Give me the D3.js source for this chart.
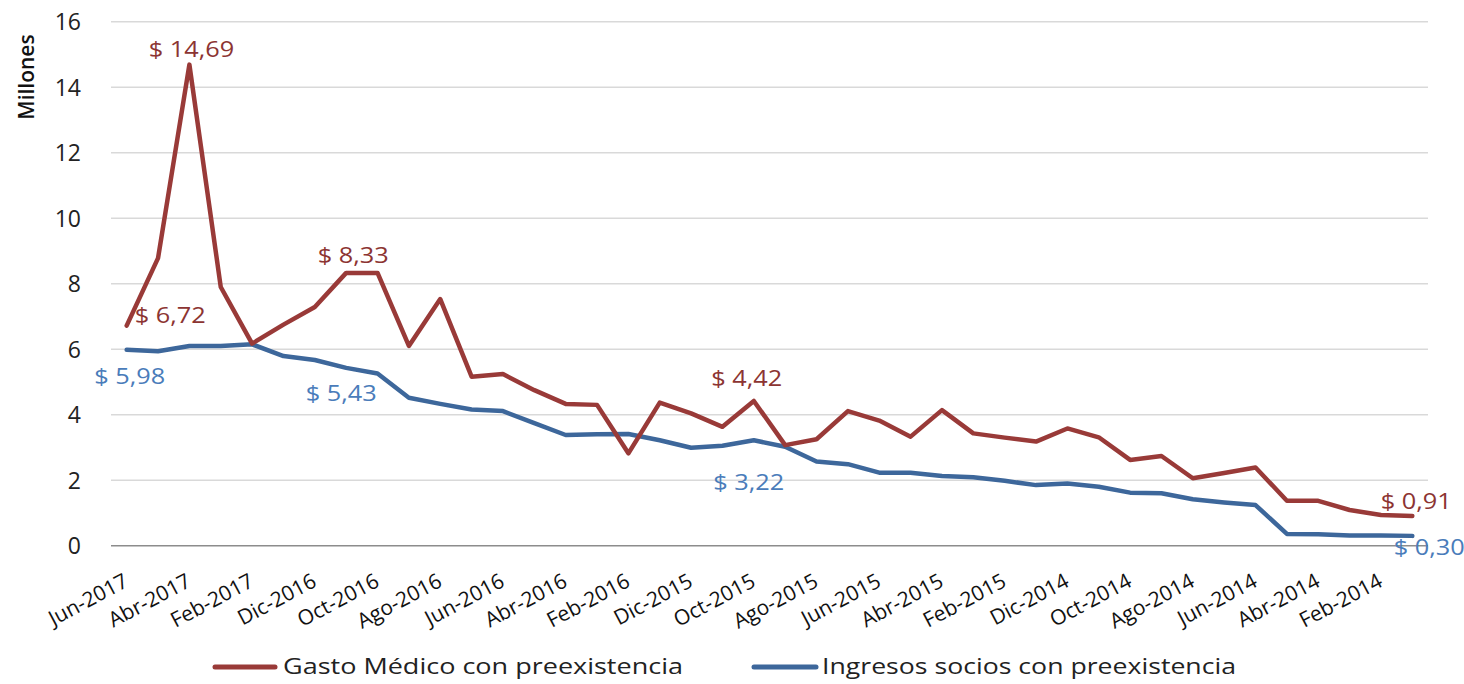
<!DOCTYPE html>
<html>
<head>
<meta charset="utf-8">
<script src="https://cdn.jsdelivr.net/npm/d3@7"></script>
<style>
  html, body { margin: 0; padding: 0; background: #fff; }
  svg { display: block; font-family: "Open Sans", "Liberation Sans", sans-serif; }
</style>
</head>
<body>
<svg id="chart" width="1464" height="684"></svg>
<script>
// ---- Data ----
const months = [
  "Jun-2017","May-2017","Abr-2017","Mar-2017","Feb-2017","Ene-2017",
  "Dic-2016","Nov-2016","Oct-2016","Sep-2016","Ago-2016","Jul-2016",
  "Jun-2016","May-2016","Abr-2016","Mar-2016","Feb-2016","Ene-2016",
  "Dic-2015","Nov-2015","Oct-2015","Sep-2015","Ago-2015","Jul-2015",
  "Jun-2015","May-2015","Abr-2015","Mar-2015","Feb-2015","Ene-2015",
  "Dic-2014","Nov-2014","Oct-2014","Sep-2014","Ago-2014","Jul-2014",
  "Jun-2014","May-2014","Abr-2014","Mar-2014","Feb-2014","Ene-2014"
];
const gastoMedico = [
  6.72, 8.78, 14.69, 7.90, 6.17, 6.75,
  7.29, 8.33, 8.33, 6.10, 7.53, 5.16,
  5.24, 4.75, 4.33, 4.30, 2.82, 4.37,
  4.04, 3.63, 4.42, 3.07, 3.25, 4.11,
  3.82, 3.33, 4.14, 3.43, 3.30, 3.18,
  3.58, 3.31, 2.62, 2.74, 2.06, 2.22,
  2.39, 1.37, 1.37, 1.09, 0.94, 0.91
];
const ingresosSocios = [
  5.98, 5.94, 6.10, 6.10, 6.15, 5.79,
  5.67, 5.43, 5.26, 4.52, 4.33, 4.16,
  4.11, 3.74, 3.38, 3.40, 3.41, 3.22,
  2.99, 3.05, 3.22, 3.02, 2.57, 2.49,
  2.23, 2.23, 2.13, 2.09, 1.98, 1.85,
  1.90, 1.80, 1.62, 1.60, 1.42, 1.32,
  1.24, 0.36, 0.35, 0.31, 0.31, 0.30
];
const yTicks = [0, 2, 4, 6, 8, 10, 12, 14, 16];
const xTickLabels = months.filter((d, i) => i % 2 === 0);
const seriesNames = ["Gasto Médico con preexistencia", "Ingresos socios con preexistencia"];
const yAxisTitle = "Millones";
// labelled points: [series index, point index]
const labelledPoints = [[0, 0], [0, 2], [0, 7], [0, 20], [0, 41], [1, 0], [1, 7], [1, 20], [1, 41]];

// ---- Layout / style ----
const colors = { line: ["#993a38", "#3d679b"], label: ["#8c3432", "#4a7cba"] };
const plot = { left: 111, right: 1428, top: 21.7, bottom: 545.7 };
const labelStretch = 1.15;
// label offsets (dx, dy of baseline, anchor) per labelled point
const labelOffsets = {
  "0-0": [8, -3, "start"], "0-2": [2, -8, "middle"], "0-7": [7, -10, "middle"],
  "0-20": [-7, -15, "middle"], "0-41": [4, -7, "middle"],
  "1-0": [3, 34, "middle"], "1-7": [-5, 33, "middle"], "1-20": [-5, 50, "middle"],
  "1-41": [17, 19, "middle"]
};

const svg = d3.select("#chart");

const x = d3.scaleBand().domain(months).range([plot.left, plot.right]);
const cx = m => x(m) + x.bandwidth() / 2;
const y = d3.scaleLinear().domain([0, 16]).range([plot.bottom, plot.top]);

// gridlines
svg.append("g").selectAll("line").data(yTicks.filter(t => t > 0)).join("line")
  .attr("x1", plot.left).attr("x2", plot.right)
  .attr("y1", d => y(d)).attr("y2", d => y(d))
  .attr("stroke", "#d9d9d9").attr("stroke-width", 1.5);

// y axis labels
const yAxis = d3.axisLeft(y).tickValues(yTicks).tickSize(0).tickPadding(0).tickFormat(d3.format("d"));
const gy = svg.append("g").attr("transform", `translate(81,0)`).call(yAxis);
gy.select(".domain").remove();
gy.selectAll("text").attr("font-size", 23).attr("fill", "#222")
  .attr("font-family", "'Open Sans', sans-serif").attr("dy", "0.36em");

// x axis line
svg.append("line").attr("x1", plot.left).attr("x2", plot.right)
  .attr("y1", y(0)).attr("y2", y(0)).attr("stroke", "#8c8c8c").attr("stroke-width", 1.5);

// x axis labels
const xAxis = d3.axisBottom(x).tickValues(xTickLabels).tickSize(0).tickPadding(0);
const gx = svg.append("g").attr("transform", `translate(0,${plot.bottom})`).call(xAxis);
gx.select(".domain").remove();
gx.selectAll(".tick text")
  .attr("font-size", 21).attr("fill", "#111")
  .attr("font-family", "'Open Sans', sans-serif")
  .attr("text-anchor", "end")
  .attr("x", 0).attr("y", 0).attr("dy", 0)
  .attr("transform", "translate(3,40) rotate(-28)");

// y title
svg.append("text").text(yAxisTitle)
  .attr("transform", "translate(34,77) rotate(-90)")
  .attr("text-anchor", "middle").attr("font-size", 21).attr("font-weight", 600).attr("fill", "#111");

// lines
const seriesData = [gastoMedico, ingresosSocios];
const line = d3.line().x((d, i) => cx(months[i])).y(d => y(d));
svg.append("g").selectAll("path").data(seriesData.slice().reverse()).join("path")
  .attr("d", d => line(d)).attr("fill", "none")
  .attr("stroke", (d, i) => colors.line[1 - i])
  .attr("stroke-width", 4.5).attr("stroke-linejoin", "round").attr("stroke-linecap", "round");

// data labels
const fmt = v => "$ " + v.toFixed(2).replace(".", ",");
svg.append("g").selectAll("text").data(labelledPoints).join("text")
  .each(function([s, i]) {
    const off = labelOffsets[s + "-" + i];
    const t = d3.select(this)
      .attr("x", cx(months[i]) + off[0])
      .attr("y", y(seriesData[s][i]) + off[1])
      .attr("text-anchor", off[2])
      .attr("fill", colors.label[s])
      .attr("font-size", 22)
      .text(fmt(seriesData[s][i]));
    const w = this.getComputedTextLength();
    t.attr("textLength", w * labelStretch).attr("lengthAdjust", "spacingAndGlyphs");
  });

// legend
const legendItems = [
  { x1: 215, x2: 275, tx: 283, w: 400 },
  { x1: 754, x2: 816, tx: 822, w: 414 }
];
const lg = svg.append("g");
legendItems.forEach((it, k) => {
  lg.append("line").attr("x1", it.x1).attr("x2", it.x2).attr("y1", 667).attr("y2", 667)
    .attr("stroke", colors.line[k]).attr("stroke-width", 5).attr("stroke-linecap", "round");
  lg.append("text").attr("x", it.tx).attr("y", 667).attr("dy", "0.35em")
    .attr("font-size", 21).attr("fill", "#222")
    .attr("textLength", it.w).attr("lengthAdjust", "spacingAndGlyphs")
    .text(seriesNames[k]);
});
</script>
</body>
</html>
